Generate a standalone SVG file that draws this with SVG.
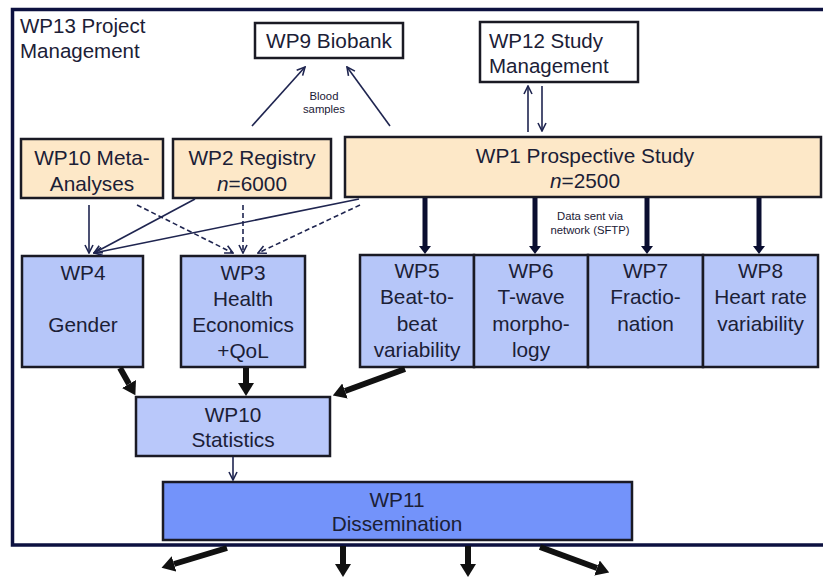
<svg xmlns="http://www.w3.org/2000/svg" width="823" height="579" viewBox="0 0 823 579">
<defs>
<style>
.box{stroke:#1a1a24;stroke-width:2.5}
.white{fill:#ffffff}
.peach{fill:#fde8c8}
.blue{fill:#b6c6f9}
.stat{fill:#b9c8fa}
.dark{fill:#7393fa}
text{font-family:"Liberation Sans",Arial,sans-serif;fill:#1b2036}
.t{font-size:20.8px;text-anchor:middle}
.tl{font-size:20.5px}
.s{font-size:11.3px;text-anchor:middle}
.thin{stroke:#1f2550;stroke-width:1.6;fill:none}
.dash{stroke:#1f2550;stroke-width:1.6;fill:none;stroke-dasharray:5 3}
.navy{stroke:#0a0e30;stroke-width:5;fill:none}
.black{stroke:#111111;stroke-width:6;fill:none}
</style>
<marker id="open" viewBox="0 0 10 10" refX="9" refY="5" markerWidth="10" markerHeight="10" markerUnits="userSpaceOnUse" orient="auto">
<path d="M1,1 L9,5 L1,9" fill="none" stroke="#1f2550" stroke-width="1.6"/>
</marker>
<marker id="navyhead" viewBox="0 0 8 12" refX="0" refY="6" markerWidth="8" markerHeight="12" markerUnits="userSpaceOnUse" orient="auto">
<path d="M0,0 L8,6 L0,12 Z" fill="#0a0e30"/>
</marker>
<marker id="bighead" viewBox="0 0 13 16" refX="0" refY="8" markerWidth="13" markerHeight="16" markerUnits="userSpaceOnUse" orient="auto">
<path d="M0,0 L13,8 L0,16 Z" fill="#111111"/>
</marker>
</defs>
<rect width="823" height="579" fill="#ffffff"/>
<g id="wp13-frame">
<path d="M830,9.5 H12.5 V545 H830" fill="none" stroke="#0d1140" stroke-width="3.5"/>
<text class="tl" x="20" y="33">WP13 Project</text>
<text class="tl" x="20" y="58">Management</text>
</g>
<g id="wp9">
<rect class="box white" x="255" y="23" width="148" height="35"/>
<text class="t" x="329" y="48">WP9 Biobank</text>
</g>
<g id="wp12">
<rect class="box white" x="480" y="22" width="158" height="60"/>
<text class="tl" x="489" y="48">WP12 Study</text>
<text class="tl" x="489" y="73">Management</text>
</g>
<g id="wp10meta">
<rect class="box peach" x="21" y="139" width="142" height="59"/>
<text class="t" x="92" y="165">WP10 Meta-</text>
<text class="t" x="92" y="191">Analyses</text>
</g>
<g id="wp2">
<rect class="box peach" x="173" y="139" width="158" height="59"/>
<text class="t" x="252" y="165">WP2 Registry</text>
<text class="t" x="252" y="191"><tspan font-style="italic">n</tspan>=6000</text>
</g>
<g id="wp1">
<rect class="box peach" x="345" y="137" width="476" height="60"/>
<text class="t" x="585" y="163">WP1 Prospective Study</text>
<text class="t" x="585" y="188"><tspan font-style="italic">n</tspan>=2500</text>
</g>
<g id="wp4">
<rect class="box blue" x="22" y="256" width="121" height="111"/>
<text class="t" x="83" y="280">WP4</text>
<text class="t" x="83" y="332">Gender</text>
</g>
<g id="wp3">
<rect class="box blue" x="181" y="256" width="124" height="111"/>
<text class="t" x="243" y="280">WP3</text>
<text class="t" x="243" y="306">Health</text>
<text class="t" x="243" y="332">Economics</text>
<text class="t" x="243" y="358">+QoL</text>
</g>
<g id="wp5">
<rect class="box blue" x="360" y="255" width="114" height="112"/>
<text class="t" x="417" y="278">WP5</text>
<text class="t" x="417" y="304">Beat-to-</text>
<text class="t" x="417" y="331">beat</text>
<text class="t" x="417" y="357">variability</text>
</g>
<g id="wp6">
<rect class="box blue" x="474" y="255" width="114" height="112"/>
<text class="t" x="531" y="278">WP6</text>
<text class="t" x="531" y="304">T-wave</text>
<text class="t" x="531" y="331">morpho-</text>
<text class="t" x="531" y="357">logy</text>
</g>
<g id="wp7">
<rect class="box blue" x="588" y="255" width="115" height="112"/>
<text class="t" x="645.5" y="278">WP7</text>
<text class="t" x="645.5" y="304">Fractio-</text>
<text class="t" x="645.5" y="331">nation</text>
</g>
<g id="wp8">
<rect class="box blue" x="703" y="255" width="115" height="112"/>
<text class="t" x="760.5" y="278">WP8</text>
<text class="t" x="760.5" y="304">Heart rate</text>
<text class="t" x="760.5" y="331">variability</text>
</g>
<g id="wp10stats">
<rect class="box stat" x="136" y="397" width="194" height="59"/>
<text class="t" x="233" y="422">WP10</text>
<text class="t" x="233" y="447">Statistics</text>
</g>
<g id="wp11">
<rect class="box dark" x="163" y="482" width="469" height="58"/>
<text class="t" x="397" y="507">WP11</text>
<text class="t" x="397" y="531">Dissemination</text>
</g>
<g id="connectors">
<line class="thin" x1="252" y1="126" x2="305" y2="67" marker-end="url(#open)"/>
<line class="thin" x1="390" y1="126" x2="347" y2="67" marker-end="url(#open)"/>
<text class="s" x="324" y="100">Blood</text>
<text class="s" x="324" y="113">samples</text>
<line class="thin" x1="528" y1="132" x2="528" y2="86" marker-end="url(#open)"/>
<line class="thin" x1="542" y1="86" x2="542" y2="131" marker-end="url(#open)"/>
<line class="navy" x1="425" y1="198" x2="425" y2="246" marker-end="url(#navyhead)"/>
<line class="navy" x1="535" y1="198" x2="535" y2="246" marker-end="url(#navyhead)"/>
<line class="navy" x1="647" y1="198" x2="647" y2="246" marker-end="url(#navyhead)"/>
<line class="navy" x1="759" y1="198" x2="759" y2="246" marker-end="url(#navyhead)"/>
<text class="s" x="590" y="220">Data sent via</text>
<text class="s" x="590" y="234">network (SFTP)</text>
<line class="thin" x1="89" y1="205" x2="89" y2="253" marker-end="url(#open)"/>
<line class="thin" x1="195" y1="199" x2="94" y2="253" marker-end="url(#open)"/>
<line class="thin" x1="359" y1="199" x2="94" y2="253" marker-end="url(#open)"/>
<line class="dash" x1="137" y1="205" x2="233" y2="253" marker-end="url(#open)"/>
<line class="dash" x1="243" y1="205" x2="243" y2="253" marker-end="url(#open)"/>
<line class="dash" x1="360" y1="205" x2="258" y2="253" marker-end="url(#open)"/>
<line class="black" x1="120" y1="368" x2="129" y2="384" marker-end="url(#bighead)"/>
<line class="black" x1="246" y1="368" x2="246" y2="383" marker-end="url(#bighead)"/>
<line class="black" x1="405" y1="369" x2="345" y2="391" marker-end="url(#bighead)"/>
<line class="thin" x1="233" y1="457" x2="233" y2="480" marker-end="url(#open)"/>
<line class="black" x1="227" y1="548" x2="174" y2="564" marker-end="url(#bighead)"/>
<line class="black" x1="343" y1="546" x2="343" y2="564" marker-end="url(#bighead)"/>
<line class="black" x1="468" y1="546" x2="468" y2="564" marker-end="url(#bighead)"/>
<line class="black" x1="540" y1="547" x2="597" y2="568" marker-end="url(#bighead)"/>
</g>
</svg>
